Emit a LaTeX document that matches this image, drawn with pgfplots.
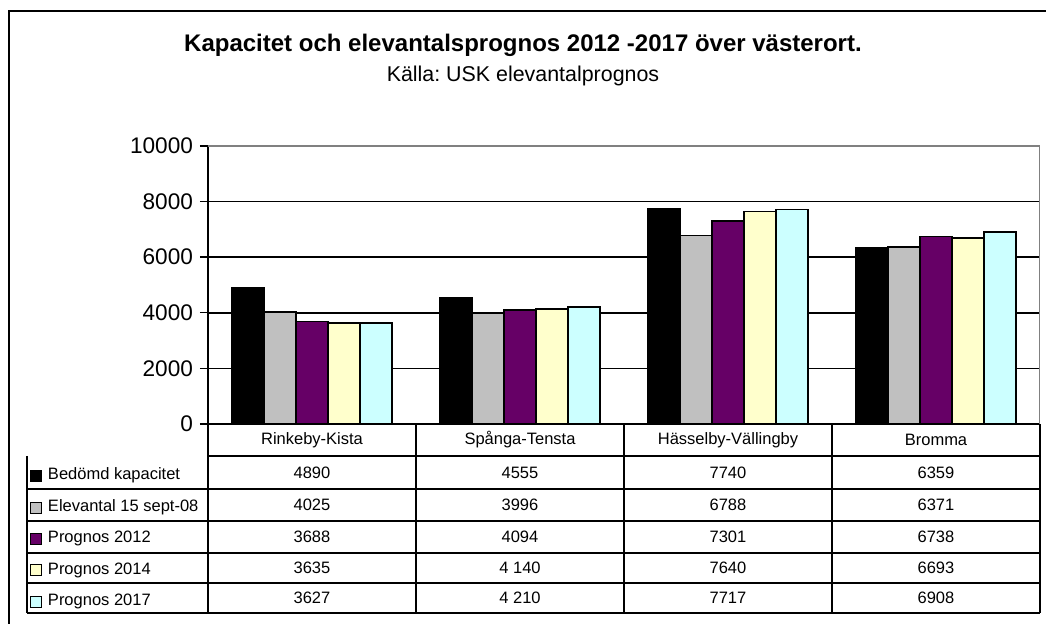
\documentclass[border=0pt]{standalone}
\usepackage{fontspec}
\setmainfont{Liberation Sans}
\usepackage{pgfplots}
\pgfplotsset{compat=1.18}
\definecolor{cgray}{HTML}{C0C0C0}
\definecolor{cpurple}{HTML}{660066}
\definecolor{cyellow}{HTML}{FFFFCC}
\definecolor{ccyan}{HTML}{CCFFFF}
\frenchspacing

\begin{document}
\begin{tikzpicture}
\useasboundingbox (0,0) rectangle (523pt,-312pt);
% frame and titles (coordinates in px of the reference)
\begin{scope}[x=0.5pt,y=-0.5pt]
  \draw[line width=1pt] (9,700) -- (9,11) -- (1100,11);
  \node[font=\bfseries\fontsize{12}{14}\selectfont] at (523,45) {Kapacitet och elevantalsprognos 2012 -2017 över västerort.};
  \node[font=\fontsize{10.7}{12}\selectfont] at (523,76) {Källa: USK elevantalprognos};
\end{scope}

\begin{axis}[
    at={(104pt,-212pt)}, anchor=south west,
    scale only axis, width=416pt, height=139pt,
    xmin=-0.5, xmax=3.5, ymin=0, ymax=10000,
    xtick=\empty,
    ytick={0,2000,4000,6000,8000},
    extra y ticks={10000},
    extra y tick style={grid style={gray, line width=0.8pt}},
    ymajorgrids,
    grid style={black, line width=0.75pt},
    axis x line*=bottom, axis y line*=left,
    axis line style={black, line width=0.8pt},
    tick align=outside, major tick length=4pt,
    tick style={black, line width=0.7pt},
    scaled ticks=false,
    yticklabel style={font=\fontsize{11.3}{13}\selectfont},
    /pgf/number format/1000 sep={},
    /pgf/number format/assume math mode=true,
    bar width=0.1538,
    every axis plot/.append style={draw=black, line width=0.7pt},
    every axis plot post/.append style={legend image code/.code={\draw[#1,line width=0.5pt] (0pt,-5pt) rectangle (5.5pt,0.5pt);}},
    legend style={at={(-0.21394,-0.1151)}, anchor=north west, draw=none, fill=none,
      inner sep=0pt, outer sep=0pt, row sep=0pt, column sep=3pt,
      font=\fontsize{8.25}{9}\selectfont,
      nodes={inner sep=0pt, text height=12pt, text depth=3.7pt}},
    legend cell align=left,
]
\addplot[ybar, bar shift=-0.3077, fill=black] coordinates {(0,4890) (1,4555) (2,7740) (3,6359)};
\addplot[ybar, bar shift=-0.1538, fill=cgray] coordinates {(0,4025) (1,3996) (2,6788) (3,6371)};
\addplot[ybar, bar shift=0, fill=cpurple] coordinates {(0,3688) (1,4094) (2,7301) (3,6738)};
\addplot[ybar, bar shift=0.1538, fill=cyellow] coordinates {(0,3635) (1,4140) (2,7640) (3,6693)};
\addplot[ybar, bar shift=0.3077, fill=ccyan] coordinates {(0,3627) (1,4210) (2,7717) (3,6908)};
\legend{Bedömd kapacitet, Elevantal 15 sept-08, Prognos 2012, Prognos 2014, Prognos 2017}
\draw[gray, line width=0.8pt] (rel axis cs:1,0) -- (rel axis cs:1,1);
\end{axis}

% data table under the plot
\begin{scope}[x=0.5pt,y=-0.5pt, line width=0.75pt]
  \foreach \x in {208,416,624,832,1040} \draw (\x,424) -- (\x,613);
  \draw (27,456) -- (27,613);
  \draw (208,456) -- (1040,456);
  \foreach \y in {489,521,553,583,613} \draw (27,\y) -- (1040,\y);
  \begin{scope}[every node/.style={font=\fontsize{8.25}{9}\selectfont}]
    \node at (312,440) {Rinkeby-Kista};
    \node at (520,440) {Spånga-Tensta};
    \node at (728,440) {Hässelby-Vällingby};
    \node at (936,440) {Bromma};
    \foreach \a/\b/\c/\d [count=\i] in {4890/4555/7740/6359, 4025/3996/6788/6371, 3688/4094/7301/6738, 3635/4 140/7640/6693, 3627/4 210/7717/6908} {
      \pgfmathsetmacro{\yy}{{0,472.5,505,537,568,598}[\i]}
      \node at (312,\yy) {\a};
      \node at (520,\yy) {\b};
      \node at (728,\yy) {\c};
      \node at (936,\yy) {\d};
    }
  \end{scope}
\end{scope}
\end{tikzpicture}
\end{document}
